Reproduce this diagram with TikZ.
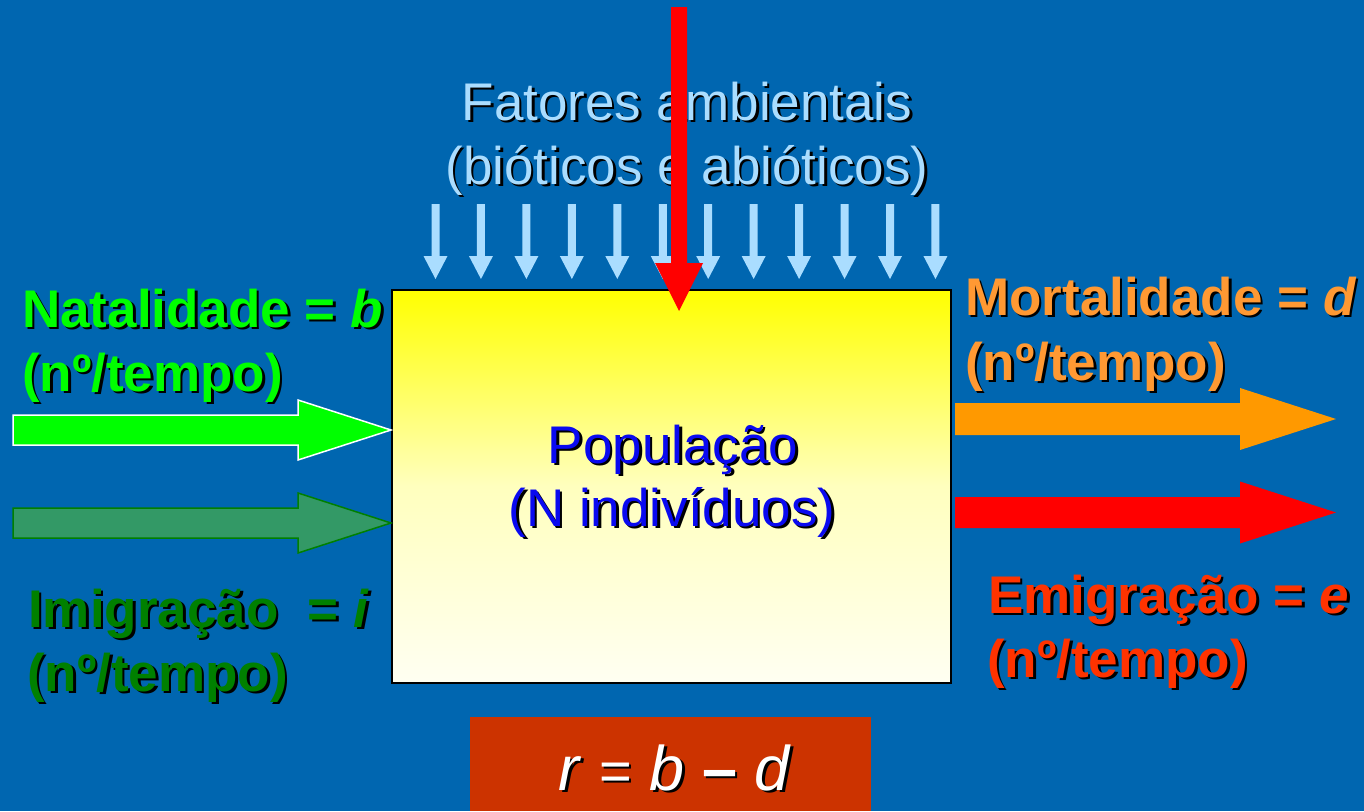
\documentclass[tikz,border=0pt]{standalone}
\usepackage{fontspec}
\setmainfont{Liberation Sans}
\usetikzlibrary{calc}
\definecolor{bgblue}{RGB}{0,102,176}
\definecolor{lightarrow}{RGB}{170,221,255}
\definecolor{natgreen}{RGB}{0,255,0}
\definecolor{imigreen}{RGB}{0,128,0}
\definecolor{imifill}{RGB}{51,153,102}
\definecolor{mortorange}{RGB}{255,153,51}
\definecolor{arroworange}{RGB}{255,153,0}
\definecolor{emired}{RGB}{255,51,0}
\definecolor{rboxfill}{RGB}{204,51,0}
\definecolor{popblue}{RGB}{10,10,240}
\definecolor{paleyellow}{RGB}{255,255,190}
\definecolor{nearwhite}{RGB}{255,255,242}
% horizontal block arrow: style, start, tip, shaft half width, head half width, head length
\newcommand\harrowblk[6]{%
  \path[#1] let \p1=(#2), \p2=(#3) in
    (\x1,\y1+#4) -- (\x2-#6,\y1+#4) -- (\x2-#6,\y1+#5) -- (\x2,\y2)
    -- (\x2-#6,\y1-#5) -- (\x2-#6,\y1-#4) -- (\x1,\y1-#4) -- cycle;}
% vertical (downward) block arrow
\newcommand\varrowblk[6]{%
  \path[#1] let \p1=(#2), \p2=(#3) in
    (\x1-#4,\y1) -- (\x1-#4,\y2+#6) -- (\x1-#5,\y2+#6) -- (\x2,\y2)
    -- (\x1+#5,\y2+#6) -- (\x1+#4,\y2+#6) -- (\x1+#4,\y1) -- cycle;}
% shadowed text: name, position, style, text
\newcommand\shtxt[4]{%
  \node[#3,text=black] at ([shift={(2.5,2.5)}]#2) {#4};
  \node[#3] (#1) at (#2) {#4};}
\tikzset{
  big/.style={inner sep=0pt, font=\fontsize{53}{64}\selectfont},
  bigbold/.style={big, font=\fontsize{53}{64}\selectfont\bfseries},
}
\begin{document}
\begin{tikzpicture}[x=1pt,y=-1pt]
\useasboundingbox (0,0) rectangle (1364,811);
\fill[bgblue] (0,0) rectangle (1364,811);

% population box
\node[draw=black, line width=2pt, anchor=north west, minimum width=559pt, minimum height=393pt,
      top color=yellow, bottom color=nearwhite, middle color=paleyellow, inner sep=0pt] (pop) at (391,289) {};

% light blue arrows
\foreach \i in {0,...,11}{
  \coordinate (la\i) at ({435.5+45.45*\i},204);
  \coordinate (lt\i) at ({435.5+45.45*\i},279);
  \varrowblk{fill=lightarrow}{la\i}{lt\i}{4pt}{12pt}{23pt}
}

% Fatores text
\shtxt{fat1}{687,120}{big,anchor=base,text=lightarrow}{Fatores ambientais}
\shtxt{fat2}{687,184}{big,anchor=base,text=lightarrow}{(bióticos e abióticos)}

% red vertical arrow
\coordinate (redtop) at (679,7);
\coordinate (redtip) at (679,311);
\varrowblk{fill=red}{redtop}{redtip}{8pt}{24pt}{48pt}

% left arrows
\coordinate (natstart) at (13,430);
\coordinate (nattip) at (pop.west |- natstart);
\harrowblk{fill=natgreen, draw=white, line width=1.5pt, line join=miter}{natstart}{nattip}{15pt}{30pt}{93pt}
\coordinate (imistart) at (13,523);
\coordinate (imitip) at (pop.west |- imistart);
\harrowblk{fill=imifill, draw=imigreen, line width=1.5pt}{imistart}{imitip}{15pt}{30pt}{93pt}

% right arrows
\coordinate (mortstart) at (955,419);
\coordinate (morttip) at (1336,419);
\harrowblk{fill=arroworange}{mortstart}{morttip}{16pt}{31pt}{96pt}
\coordinate (emistart) at (955,512.5);
\coordinate (emitip) at (1336,512.5);
\harrowblk{fill=red}{emistart}{emitip}{15.5pt}{31pt}{96pt}

% box texts
\shtxt{pop1}{673,463}{big,anchor=base,text=popblue}{População}
\shtxt{pop2}{672,526}{big,anchor=base,text=popblue}{(N indivíduos)}

% labels
\shtxt{nat1}{22,327}{bigbold,anchor=base west,text=natgreen}{Natalidade = \textit{b}}
\shtxt{nat2}{22,391}{bigbold,anchor=base west,text=natgreen}{(nº/tempo)}
\shtxt{imi1}{28,627}{bigbold,anchor=base west,text=imigreen}{Imigração~~= \textit{i}}
\shtxt{imi2}{27,691}{bigbold,anchor=base west,text=imigreen}{(nº/tempo)}
\shtxt{mort1}{965,315}{bigbold,anchor=base west,text=mortorange}{Mortalidade = \textit{d}}
\shtxt{mort2}{965,380}{bigbold,anchor=base west,text=mortorange}{(nº/tempo)}
\shtxt{emi1}{988,613}{bigbold,anchor=base west,text=emired}{Emigração = \textit{e}}
\shtxt{emi2}{987,677}{bigbold,anchor=base west,text=emired}{(nº/tempo)}

% bottom r box
\node[fill=rboxfill, anchor=north west, minimum width=401pt, minimum height=94pt, inner sep=0pt] (rbox) at (470,717) {};
\shtxt{rtext}{675,790}{inner sep=0pt,anchor=base,text=white,font=\fontsize{63}{70}\selectfont}{\textit{r} {\fontsize{56}{60}\selectfont =} \textit{b} {\bfseries –} \textit{d}}
\end{tikzpicture}
\end{document}
